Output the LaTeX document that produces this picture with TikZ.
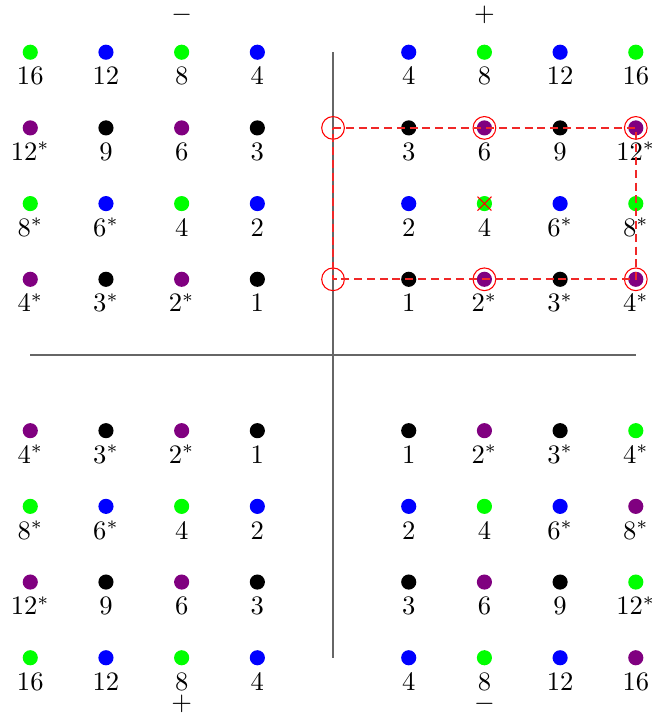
\documentclass[tikz,border=0pt]{standalone}
\usetikzlibrary{shapes.misc}
\definecolor{dgreen}{RGB}{0,255,0}
\definecolor{dblue}{RGB}{0,0,255}
\definecolor{dpurple}{RGB}{128,0,128}
\definecolor{dblack}{RGB}{0,0,0}
\definecolor{dashred}{RGB}{240,40,40}
\begin{document}
\begin{tikzpicture}[x=1cm,y=1cm,
  dot/.style={circle, fill=#1, inner sep=0pt, minimum size=0.2cm},
  lab/.style={anchor=base, inner sep=0pt},
  ring/.style={circle, draw=red, inner sep=0pt, minimum size=0.3cm, line width=0.4pt},
  axisline/.style={draw=black!60, line width=0.45pt},
  reddash/.style={draw=dashred, dash pattern=on 3pt off 1.8pt, line width=0.6pt},
  xcross/.style={cross out, draw=red, inner sep=0pt, minimum size=0.17cm, line width=0.4pt},
  sign/.style={inner sep=0pt}]
\useasboundingbox (-4.40,-4.73) rectangle (4.24,4.69);
% axes
\coordinate (vtop) at (0,4);
\coordinate (vbot) at (0,-4);
\coordinate (hleft) at (-4,0);
\coordinate (hright) at (4,0);
\draw[axisline] (vtop) -- (vbot);
\draw[axisline] (hleft) -- (hright);
% dots and labels
\foreach \x/\y/\c/\l in {
  -4/4/dgreen/16, -3/4/dblue/12, -2/4/dgreen/8, -1/4/dblue/4,
  -4/3/dpurple/12^*, -3/3/dblack/9, -2/3/dpurple/6, -1/3/dblack/3,
  -4/2/dgreen/8^*, -3/2/dblue/6^*, -2/2/dgreen/4, -1/2/dblue/2,
  -4/1/dpurple/4^*, -3/1/dblack/3^*, -2/1/dpurple/2^*, -1/1/dblack/1,
  1/4/dblue/4, 2/4/dgreen/8, 3/4/dblue/12, 4/4/dgreen/16,
  1/3/dblack/3, 2/3/dpurple/6, 3/3/dblack/9, 4/3/dpurple/12^*,
  1/2/dblue/2, 2/2/dgreen/4, 3/2/dblue/6^*, 4/2/dgreen/8^*,
  1/1/dblack/1, 2/1/dpurple/2^*, 3/1/dblack/3^*, 4/1/dpurple/4^*,
  -4/-1/dpurple/4^*, -3/-1/dblack/3^*, -2/-1/dpurple/2^*, -1/-1/dblack/1,
  -4/-2/dgreen/8^*, -3/-2/dblue/6^*, -2/-2/dgreen/4, -1/-2/dblue/2,
  -4/-3/dpurple/12^*, -3/-3/dblack/9, -2/-3/dpurple/6, -1/-3/dblack/3,
  -4/-4/dgreen/16, -3/-4/dblue/12, -2/-4/dgreen/8, -1/-4/dblue/4,
  1/-1/dblack/1, 2/-1/dpurple/2^*, 3/-1/dblack/3^*, 4/-1/dgreen/4^*,
  1/-2/dblue/2, 2/-2/dgreen/4, 3/-2/dblue/6^*, 4/-2/dpurple/8^*,
  1/-3/dblack/3, 2/-3/dpurple/6, 3/-3/dblack/9, 4/-3/dgreen/12^*,
  1/-4/dblue/4, 2/-4/dgreen/8, 3/-4/dblue/12, 4/-4/dpurple/16}
{
  \node[dot=\c] (d\x y\y) at (\x,\y) {};
  \node[lab] (l\x y\y) at (\x,\y-0.432) {$\l$};
}
% signs
\node[sign] (stl) at (-2,4.5) {$-$};
\node[sign] (str) at (2,4.5) {$+$};
\node[sign] (sbl) at (-2,-4.61) {$+$};
\node[sign] (sbr) at (2,-4.61) {$-$};
% rings
\node[ring] (r0y3) at (0,3) {};
\node[ring] (r2y3) at (2,3) {};
\node[ring] (r4y3) at (4,3) {};
\node[ring] (r0y1) at (0,1) {};
\node[ring] (r2y1) at (2,1) {};
\node[ring] (r4y1) at (4,1) {};
% dashed rectangle
\draw[reddash] (r0y3.center) -- (r4y3.center) -- (r4y1.center) -- (r0y1.center) -- cycle;
% cross
\node[xcross] (x2y2) at (2,2) {};
\end{tikzpicture}
\end{document}
